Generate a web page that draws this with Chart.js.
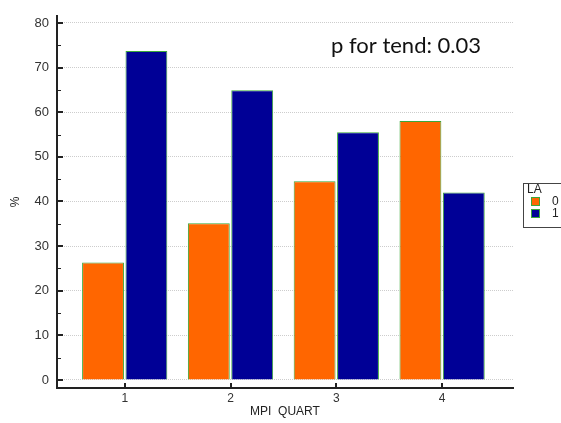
<!DOCTYPE html>
<html>
<head>
<meta charset="utf-8">
<script src="https://cdn.jsdelivr.net/npm/chart.js@4"></script>
<style>
  html, body { margin: 0; padding: 0; background: #fff; }
  #wrap { width: 561px; height: 423px; }
</style>
</head>
<body>
<div id="wrap"><canvas id="chart" width="561" height="423"></canvas></div>
<script>
const quartiles = [1, 2, 3, 4];
const la0 = [26.3, 35.1, 44.5, 58.0];
const la1 = [73.7, 64.9, 55.5, 42.0];
const yTicks = [0, 10, 20, 30, 40, 50, 60, 70, 80];
const yMinor = [5, 15, 25, 35, 45, 55, 65, 75];
const seriesNames = ['0', '1'];
const legendTitle = 'LA';
const note = 'p for tend: 0.03';

const FONT = '"Liberation Sans", Arial, sans-serif';
const AXIS = '#222';

// ticks point inward, drawn here instead of by Chart.js
const innerTicks = {
  id: 'innerTicks',
  afterDraw(chart) {
    const { ctx, scales: { x, y } } = chart;
    const left = chart.chartArea.left, bottom = chart.chartArea.bottom;
    ctx.save();
    ctx.strokeStyle = AXIS;
    ctx.lineWidth = 2;
    ctx.beginPath();
    yTicks.forEach(v => {
      const p = Math.round(y.getPixelForValue(v));
      ctx.moveTo(left, p); ctx.lineTo(left + 6, p);
    });
    quartiles.forEach(v => {
      const p = Math.round(x.getPixelForValue(v));
      ctx.moveTo(p, bottom); ctx.lineTo(p, bottom - 5);
    });
    ctx.stroke();
    ctx.lineWidth = 1;
    ctx.beginPath();
    yMinor.forEach(v => {
      const p = Math.round(y.getPixelForValue(v)) + 0.5;
      ctx.moveTo(left, p); ctx.lineTo(left + 4, p);
    });
    ctx.stroke();
    ctx.restore();
  }
};

const extras = {
  id: 'extras',
  afterDraw(chart) {
    const ctx = chart.ctx;
    ctx.save();
    ctx.fillStyle = '#111';
    ctx.font = '22px Lato, "Open Sans", sans-serif';
    ctx.textBaseline = 'middle';
    ctx.textAlign = 'left';
    ctx.fillText(note, 331, 46);

    // legend box
    ctx.strokeStyle = '#444';
    ctx.lineWidth = 1;
    ctx.strokeRect(523.5, 183.5, 60, 44);
    ctx.font = '12px ' + FONT;
    ctx.fillStyle = '#222';
    ctx.fillText(legendTitle, 527, 190);
    chart.data.datasets.forEach((ds, i) => {
      const cy = 201 + i * 12;
      ctx.fillStyle = ds.backgroundColor;
      ctx.fillRect(531, cy - 4, 9, 9);
      ctx.strokeStyle = ds.borderColor;
      ctx.strokeRect(531.5, cy - 3.5, 8, 8);
      ctx.fillStyle = '#222';
      ctx.fillText(ds.label, 552, cy + 1);
    });
    ctx.restore();
  }
};

new Chart(document.getElementById('chart'), {
  type: 'bar',
  data: {
    datasets: [
      {
        label: seriesNames[0],
        data: quartiles.map((q, i) => ({ x: q, y: la0[i] })),
        backgroundColor: '#ff6600',
        borderColor: '#3aa83a',
        borderWidth: 1,
      },
      {
        label: seriesNames[1],
        data: quartiles.map((q, i) => ({ x: q, y: la1[i] })),
        backgroundColor: '#000096',
        borderColor: '#3aa83a',
        borderWidth: 1,
      }
    ]
  },
  plugins: [innerTicks, extras],
  options: {
    responsive: false,
    animation: false,
    layout: { padding: { top: 15, right: 48, left: 4, bottom: 0 } },
    categoryPercentage: 0.82,
    barPercentage: 0.965,
    plugins: { legend: { display: false }, tooltip: { enabled: false } },
    scales: {
      x: {
        type: 'linear',
        min: 0.36,
        max: 4.67,
        offset: false,
        afterBuildTicks: s => { s.ticks = quartiles.map(v => ({ value: v })); },
        afterFit: s => { s.height = 35; },
        grid: { display: false, drawTicks: false },
        border: { display: true, color: AXIS, width: 2 },
        ticks: { padding: 3, color: '#333', font: { family: FONT, size: 12 }, callback: v => String(v) },
        title: { display: true, text: 'MPI  QUART', color: '#222', padding: { top: 0 }, font: { family: FONT, size: 12 } }
      },
      y: {
        min: -1.8,
        max: 81.6,
        afterBuildTicks: s => { s.ticks = yTicks.map(v => ({ value: v })); },
        afterFit: s => { s.width = 53; },
        grid: { display: true, drawTicks: false, color: '#cdcdcd', lineWidth: 1 },
        border: { display: true, color: AXIS, width: 2, dash: [1, 1] },
        ticks: { padding: 8, color: '#333', font: { family: FONT, size: 13 } },
        title: { display: true, text: '%', color: '#222', padding: { bottom: 10 }, font: { family: FONT, size: 12 } }
      }
    }
  }
});
</script>
</body>
</html>
